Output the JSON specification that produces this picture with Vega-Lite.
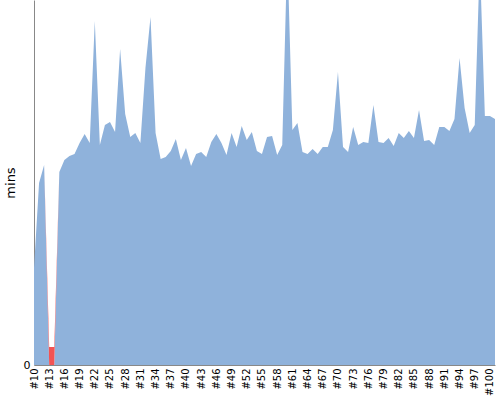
{
  "$schema": "https://vega.github.io/schema/vega-lite/v6.json",
  "width": 461,
  "height": 365,
  "autosize": {"type": "none"},
  "padding": {"left": 34, "top": 0, "right": 5, "bottom": 35},
  "config": {"view": {"stroke": null}, "font": "DejaVu Sans"},
  "data": {"values": [
    {"build": "#10", "status": "success", "mins": 9.7},
    {"build": "#11", "status": "success", "mins": 18.2},
    {"build": "#12", "status": "success", "mins": 20.0},
    {"build": "#13", "status": "success", "mins": 0},
    {"build": "#14", "status": "success", "mins": 0},
    {"build": "#15", "status": "success", "mins": 19.3},
    {"build": "#16", "status": "success", "mins": 20.5},
    {"build": "#17", "status": "success", "mins": 20.9},
    {"build": "#18", "status": "success", "mins": 21.1},
    {"build": "#19", "status": "success", "mins": 22.2},
    {"build": "#20", "status": "success", "mins": 23.1},
    {"build": "#21", "status": "success", "mins": 22.2},
    {"build": "#22", "status": "success", "mins": 34.4},
    {"build": "#23", "status": "success", "mins": 22.0},
    {"build": "#24", "status": "success", "mins": 24.0},
    {"build": "#25", "status": "success", "mins": 24.3},
    {"build": "#26", "status": "success", "mins": 23.3},
    {"build": "#27", "status": "success", "mins": 31.6},
    {"build": "#28", "status": "success", "mins": 25.1},
    {"build": "#29", "status": "success", "mins": 22.8},
    {"build": "#30", "status": "success", "mins": 23.2},
    {"build": "#31", "status": "success", "mins": 22.2},
    {"build": "#32", "status": "success", "mins": 29.7},
    {"build": "#33", "status": "success", "mins": 34.8},
    {"build": "#34", "status": "success", "mins": 23.2},
    {"build": "#35", "status": "success", "mins": 20.6},
    {"build": "#36", "status": "success", "mins": 20.8},
    {"build": "#37", "status": "success", "mins": 21.4},
    {"build": "#38", "status": "success", "mins": 22.6},
    {"build": "#39", "status": "success", "mins": 20.5},
    {"build": "#40", "status": "success", "mins": 21.7},
    {"build": "#41", "status": "success", "mins": 19.9},
    {"build": "#42", "status": "success", "mins": 21.1},
    {"build": "#43", "status": "success", "mins": 21.3},
    {"build": "#44", "status": "success", "mins": 20.8},
    {"build": "#45", "status": "success", "mins": 22.3},
    {"build": "#46", "status": "success", "mins": 23.1},
    {"build": "#47", "status": "success", "mins": 22.2},
    {"build": "#48", "status": "success", "mins": 21.0},
    {"build": "#49", "status": "success", "mins": 23.2},
    {"build": "#50", "status": "success", "mins": 21.8},
    {"build": "#51", "status": "success", "mins": 23.9},
    {"build": "#52", "status": "success", "mins": 22.5},
    {"build": "#53", "status": "success", "mins": 23.3},
    {"build": "#54", "status": "success", "mins": 21.4},
    {"build": "#55", "status": "success", "mins": 21.1},
    {"build": "#56", "status": "success", "mins": 22.8},
    {"build": "#57", "status": "success", "mins": 22.9},
    {"build": "#58", "status": "success", "mins": 21.0},
    {"build": "#59", "status": "success", "mins": 22.0},
    {"build": "#60", "status": "success", "mins": 41.5},
    {"build": "#61", "status": "success", "mins": 23.5},
    {"build": "#62", "status": "success", "mins": 24.2},
    {"build": "#63", "status": "success", "mins": 21.3},
    {"build": "#64", "status": "success", "mins": 21.1},
    {"build": "#65", "status": "success", "mins": 21.6},
    {"build": "#66", "status": "success", "mins": 21.1},
    {"build": "#67", "status": "success", "mins": 21.8},
    {"build": "#68", "status": "success", "mins": 21.8},
    {"build": "#69", "status": "success", "mins": 23.5},
    {"build": "#70", "status": "success", "mins": 29.3},
    {"build": "#71", "status": "success", "mins": 21.8},
    {"build": "#72", "status": "success", "mins": 21.3},
    {"build": "#73", "status": "success", "mins": 23.8},
    {"build": "#74", "status": "success", "mins": 22.0},
    {"build": "#75", "status": "success", "mins": 22.3},
    {"build": "#76", "status": "success", "mins": 22.2},
    {"build": "#77", "status": "success", "mins": 26.0},
    {"build": "#78", "status": "success", "mins": 22.3},
    {"build": "#79", "status": "success", "mins": 22.2},
    {"build": "#80", "status": "success", "mins": 22.7},
    {"build": "#81", "status": "success", "mins": 21.9},
    {"build": "#82", "status": "success", "mins": 23.2},
    {"build": "#83", "status": "success", "mins": 22.7},
    {"build": "#84", "status": "success", "mins": 23.4},
    {"build": "#85", "status": "success", "mins": 22.7},
    {"build": "#86", "status": "success", "mins": 25.5},
    {"build": "#87", "status": "success", "mins": 22.4},
    {"build": "#88", "status": "success", "mins": 22.5},
    {"build": "#89", "status": "success", "mins": 22.0},
    {"build": "#90", "status": "success", "mins": 23.8},
    {"build": "#91", "status": "success", "mins": 23.8},
    {"build": "#92", "status": "success", "mins": 23.4},
    {"build": "#93", "status": "success", "mins": 24.6},
    {"build": "#94", "status": "success", "mins": 30.7},
    {"build": "#95", "status": "success", "mins": 25.7},
    {"build": "#96", "status": "success", "mins": 23.2},
    {"build": "#97", "status": "success", "mins": 24.0},
    {"build": "#98", "status": "success", "mins": 40.5},
    {"build": "#99", "status": "success", "mins": 24.9},
    {"build": "#100", "status": "success", "mins": 24.9},
    {"build": "#101", "status": "success", "mins": 24.6},
    {"build": "#12", "status": "failure", "mins": 0},
    {"build": "#13", "status": "failure", "mins": 1.8},
    {"build": "#14", "status": "failure", "mins": 1.8},
    {"build": "#15", "status": "failure", "mins": 0}
  ]},
  "mark": {"type": "area", "clip": true, "interpolate": "linear"},
  "encoding": {
    "x": {
      "field": "build",
      "type": "ordinal",
      "sort": null,
      "scale": {"type": "point", "padding": 0},
      "axis": {
        "title": null,
        "values": ["#10","#13","#16","#19","#22","#25","#28","#31","#34","#37","#40","#43","#46","#49","#52","#55","#58","#61","#64","#67","#70","#73","#76","#79","#82","#85","#88","#91","#94","#97","#100"],
        "labelAngle": -90,
        "ticks": false,
        "labelPadding": 3,
        "labelFontSize": 10,
        "labelColor": "#000000",
        "domainColor": "#888888",
        "grid": false
      }
    },
    "y": {
      "field": "mins",
      "type": "quantitative",
      "stack": "zero",
      "scale": {"domain": [0, 36.5], "nice": false},
      "axis": {
        "title": "mins",
        "values": [0],
        "grid": false,
        "ticks": false,
        "labelPadding": 4,
        "labelFontSize": 11,
        "labelColor": "#000000",
        "domainColor": "#888888",
        "titleFontWeight": "normal",
        "titleFontSize": 13,
        "titleColor": "#000000",
        "titlePadding": 6
      }
    },
    "color": {
      "field": "status",
      "type": "nominal",
      "scale": {"domain": ["success", "failure"], "range": ["#8fb2db", "#f25454"]},
      "legend": null
    },
    "order": {"field": "status", "sort": "descending"}
  }
}
